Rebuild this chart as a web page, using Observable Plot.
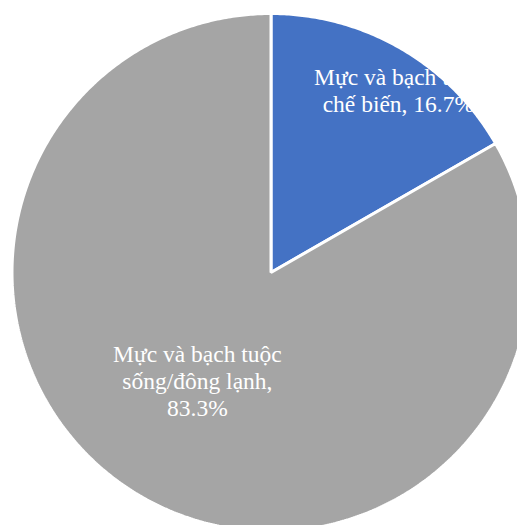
<!DOCTYPE html>
<html>
<head>
<meta charset="utf-8">
<script src="https://cdn.jsdelivr.net/npm/d3@7"></script>
<script src="https://cdn.jsdelivr.net/npm/@observablehq/plot@0.6"></script>
<style>
  html, body { margin: 0; padding: 0; background: #fff; overflow: hidden; }
  #chart svg text, #chart svg tspan { font-family: "Liberation Serif", "Times New Roman", serif !important; }
</style>
</head>
<body>
<div id="chart"></div>
<script>
// ---- data ----
const categories = ["Mực và bạch tuộc chế biến", "Mực và bạch tuộc sống/đông lạnh"];
const values = [16.7, 83.3];
const labelTexts = ["Mực và bạch tuộc\nchế biến, 16.7%", "Mực và bạch tuộc\nsống/đông lạnh,\n83.3%"];
const colors = ["#4472C4", "#A5A5A5"];

// ---- layout ----
const W = 517, H = 525;
const cx = 270.5, cy = 272, R = 259;
// label placement: fraction along the slice's angle span, and radial fraction
const labelAngleFrac = [0.58, 0.514];
const labelRadius = [0.86, 0.505];

const arcs = d3.pie().sort(null).startAngle(0).endAngle(2 * Math.PI)(values);

const slicePts = [];
arcs.forEach((a, i) => {
  slicePts.push({name: categories[i], x: 0, y: 0});
  const n = Math.max(8, Math.ceil((a.endAngle - a.startAngle) / (Math.PI / 360)));
  for (let k = 0; k <= n; k++) {
    const t = a.startAngle + (a.endAngle - a.startAngle) * k / n;
    slicePts.push({name: categories[i], x: Math.sin(t), y: Math.cos(t)});
  }
});

const labels = arcs.map((a, i) => {
  const t = a.startAngle + (a.endAngle - a.startAngle) * labelAngleFrac[i];
  return {text: labelTexts[i], x: labelRadius[i] * Math.sin(t), y: labelRadius[i] * Math.cos(t)};
});

const chart = Plot.plot({
  width: W,
  height: H,
  margin: 0,
  style: {background: "white", overflow: "hidden", fontFamily: "'Liberation Serif', 'Times New Roman', serif"},
  x: {domain: [-1, 1], range: [cx - R, cx + R], axis: null},
  y: {domain: [-1, 1], range: [cy + R, cy - R], axis: null},
  color: {domain: categories, range: colors},
  marks: [
    Plot.line(slicePts, {
      x: "x", y: "y", z: "name", fill: "name",
      stroke: "white", strokeWidth: 3, strokeLinejoin: "miter",
      curve: "linear-closed"
    }),
    Plot.text(labels, {
      x: "x", y: "y", text: "text",
      fill: "white", fontSize: 23.5, lineHeight: 1.15,
      fontFamily: "'Liberation Serif', 'Times New Roman', serif",
      textAnchor: "middle"
    })
  ]
});
document.getElementById("chart").appendChild(chart);
</script>
</body>
</html>
